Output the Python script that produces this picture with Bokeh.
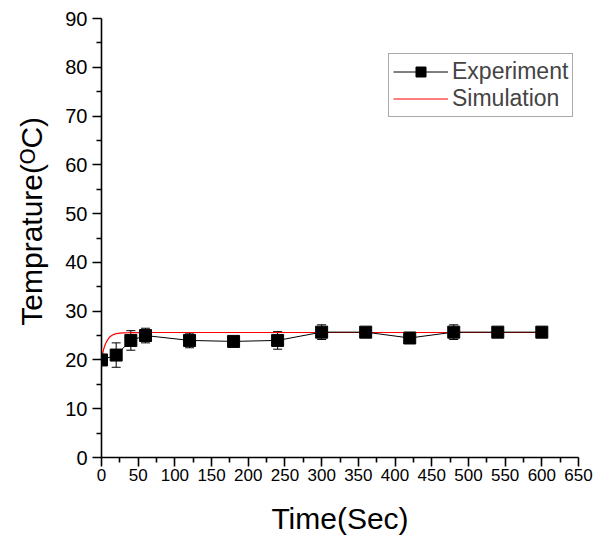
from bokeh.plotting import figure
from bokeh.models import ColumnDataSource, Whisker, TeeHead, Legend, LegendItem, Range1d, FixedTicker
from bokeh.embed import file_html
from bokeh.resources import INLINE

# Experiment data
exp_time = [0, 20, 40, 60, 120, 180, 240, 300, 360, 420, 480, 540, 600]
exp_temp = [20.0, 21.0, 24.0, 25.0, 24.0, 23.8, 24.0, 25.7, 25.7, 24.5, 25.7, 25.7, 25.7]
exp_err = [0.6, 2.5, 2.0, 1.5, 1.5, 0.5, 1.8, 1.5, 0.5, 1.0, 1.5, 0.5, 1.0]

# Simulation curve
sim_time = [0, 1, 2, 3, 4, 5, 6, 8, 10, 12, 15, 18, 20, 25, 30, 35, 40, 50, 60, 80, 100, 200, 300, 400, 500, 600]
sim_temp = [20.0, 20.9, 21.6, 22.2, 22.7, 23.1, 23.5, 24.0, 24.5, 24.8, 25.1, 25.3, 25.4, 25.5, 25.55, 25.58, 25.6, 25.62, 25.63, 25.63, 25.63, 25.63, 25.63, 25.63, 25.63, 25.63]

x_ticks = list(range(0, 651, 50))
y_ticks = list(range(0, 91, 10))

FONT = "Liberation Sans"

p = figure(width=593, height=539, output_backend="svg", toolbar_location=None,
           x_range=Range1d(0, 650), y_range=Range1d(0, 90),
           min_border_left=101, min_border_top=18, min_border_right=15, min_border_bottom=82)
p.outline_line_color = None
p.xgrid.visible = False
p.ygrid.visible = False

src = ColumnDataSource(dict(t=exp_time, y=exp_temp,
                            lo=[a - b for a, b in zip(exp_temp, exp_err)],
                            hi=[a + b for a, b in zip(exp_temp, exp_err)]))

sim_line = p.line(sim_time, sim_temp, line_color="red", line_width=1.2)
exp_line = p.line("t", "y", source=src, line_color="black", line_width=1)
wh = Whisker(base="t", lower="lo", upper="hi", source=src, line_color="black", line_width=1,
             upper_head=TeeHead(size=9, line_color="black", line_width=1),
             lower_head=TeeHead(size=9, line_color="black", line_width=1))
p.add_layout(wh)
exp_pts = p.scatter("t", "y", source=src, marker="square", size=12, fill_color="black", line_color="black")

for ax in (p.xaxis[0], p.yaxis[0]):
    ax.axis_line_width = 1.6
    ax.major_tick_line_width = 1.6
    ax.minor_tick_line_width = 1.6
    ax.major_tick_out = 9
    ax.major_tick_in = 0
    ax.minor_tick_out = 5
    ax.minor_tick_in = 0
    ax.major_label_text_font = FONT
    ax.major_label_text_color = "black"
    ax.axis_label_text_font = FONT
    ax.axis_label_text_font_size = "30px"
    ax.axis_label_text_font_style = "normal"
    ax.axis_label_text_color = "black"

p.xaxis.major_label_text_font_size = "17px"
p.yaxis.major_label_text_font_size = "20px"
p.xaxis.ticker = FixedTicker(ticks=x_ticks, minor_ticks=list(range(25, 651, 50)))
p.yaxis.ticker = FixedTicker(ticks=y_ticks, minor_ticks=list(range(5, 91, 10)))
p.xaxis.axis_label = "Time(Sec)"
p.yaxis.axis_label = "\u00a0\u00a0\u00a0\u00a0Temprature(ᴼC)"
p.xaxis.major_label_standoff = 2
p.xaxis.axis_label_standoff = 18
p.yaxis.major_label_standoff = 5
p.yaxis.axis_label_standoff = 14

legend = Legend(items=[LegendItem(label="Experiment", renderers=[exp_line, exp_pts]),
                       LegendItem(label="Simulation", renderers=[sim_line])],
                location=(287, 340))
legend.label_text_font = FONT
legend.label_text_font_size = "23px"
legend.glyph_width = 55
legend.glyph_height = 25
legend.label_height = 25
legend.spacing = 0
legend.padding = 4
legend.margin = 0
legend.border_line_color = "#555555"
legend.border_line_width = 1
legend.background_fill_alpha = 1
legend.label_standoff = 4
p.add_layout(legend)

open("out.html", "w").write(file_html(p, INLINE))
